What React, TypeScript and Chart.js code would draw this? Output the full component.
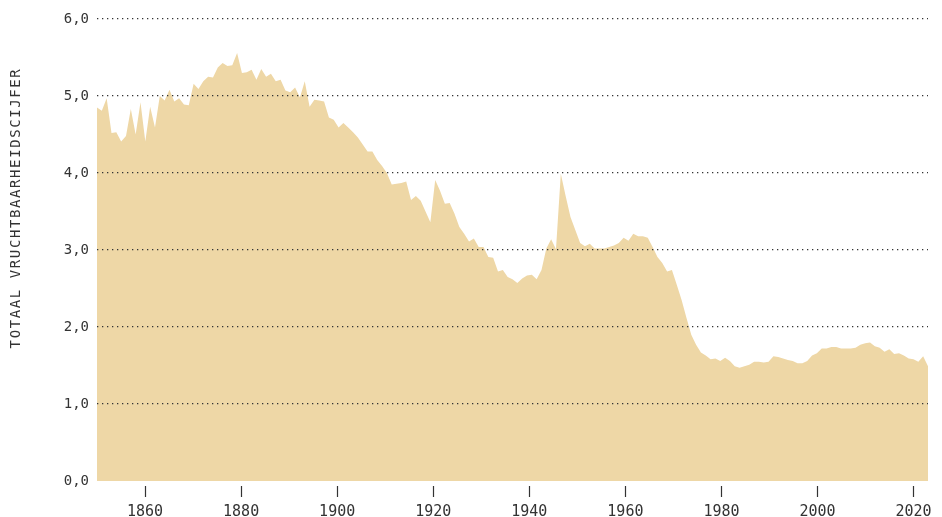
import React, { useEffect, useRef } from "react";
import { Chart, registerables } from "chart.js";

Chart.register(...registerables);

// Total fertility rate, Netherlands, 1850–2022
const firstYear = 1850;
const fertilityRate = [
  4.85, 4.81, 4.97, 4.52, 4.53, 4.41, 4.48, 4.83, 4.5, 4.92, // 1850s
  4.41, 4.86, 4.59, 5.0, 4.94, 5.08, 4.93, 4.97, 4.89, 4.88, // 1860s
  5.16, 5.09, 5.19, 5.25, 5.24, 5.37, 5.43, 5.39, 5.4, 5.56, // 1870s
  5.3, 5.31, 5.34, 5.21, 5.35, 5.25, 5.29, 5.19, 5.21, 5.07, // 1880s
  5.05, 5.11, 4.98, 5.19, 4.86, 4.95, 4.94, 4.93, 4.72, 4.69, // 1890s
  4.59, 4.65, 4.59, 4.53, 4.46, 4.37, 4.28, 4.28, 4.17, 4.09, // 1900s
  4.0, 3.85, 3.86, 3.87, 3.89, 3.65, 3.7, 3.64, 3.5, 3.36, // 1910s
  3.91, 3.77, 3.6, 3.61, 3.47, 3.3, 3.21, 3.11, 3.15, 3.04, // 1920s
  3.04, 2.91, 2.9, 2.72, 2.74, 2.65, 2.62, 2.57, 2.63, 2.67, // 1930s
  2.68, 2.62, 2.74, 3.02, 3.14, 3.01, 3.99, 3.7, 3.43, 3.26, // 1940s
  3.09, 3.05, 3.08, 3.02, 3.02, 3.02, 3.04, 3.06, 3.09, 3.16, // 1950s
  3.12, 3.21, 3.18, 3.18, 3.16, 3.04, 2.91, 2.83, 2.72, 2.74, // 1960s
  2.55, 2.35, 2.12, 1.9, 1.77, 1.67, 1.63, 1.58, 1.59, 1.56, // 1970s
  1.6, 1.56, 1.49, 1.47, 1.49, 1.51, 1.55, 1.55, 1.54, 1.55, // 1980s
  1.62, 1.61, 1.59, 1.57, 1.56, 1.53, 1.53, 1.56, 1.63, 1.66, // 1990s
  1.72, 1.72, 1.74, 1.74, 1.72, 1.72, 1.72, 1.73, 1.77, 1.79, // 2000s
  1.8, 1.75, 1.73, 1.68, 1.71, 1.65, 1.66, 1.63, 1.59, 1.58, // 2010s
  1.55, 1.62, 1.49, // 2020s
];
const years = fertilityRate.map((_, i) => firstYear + i);
const lastYear = years[years.length - 1];

const yearTicks = [1860, 1880, 1900, 1920, 1940, 1960, 1980, 2000, 2020];
const axisMinYear = 1850;
const axisMaxYear = 2023;
const valueTicks = [0, 1, 2, 3, 4, 5, 6];
const axisTitle = "TOTAAL VRUCHTBAARHEIDSCIJFER";

const FONT = "'DejaVu Sans Mono', 'Liberation Mono', monospace";
const INK = "#333333";
const FILL = "#eed7a6";

const verticalTitle = {
  id: "verticalTitle",
  afterDraw(chart: any) {
    const ctx = chart.ctx as CanvasRenderingContext2D;
    ctx.save();
    ctx.translate(16, 208);
    ctx.rotate(-Math.PI / 2);
    ctx.font = `14px ${FONT}`;
    (ctx as any).letterSpacing = "1.6px";
    ctx.fillStyle = INK;
    ctx.textAlign = "center";
    ctx.textBaseline = "middle";
    ctx.fillText(axisTitle, 0, 0);
    ctx.restore();
  },
};

export default function App() {
  const canvasRef = useRef<HTMLCanvasElement | null>(null);

  useEffect(() => {
    document.body.style.margin = "0";
    const canvas = canvasRef.current;
    if (!canvas) return;
    Chart.defaults.font.family = FONT;
    const chart = new Chart(canvas, {
      type: "line",
      data: {
        datasets: [
          {
            data: years.map((yr, i) => ({ x: yr, y: fertilityRate[i] })),
            xAxisID: "x",
            yAxisID: "y",
            fill: "origin",
            backgroundColor: FILL,
            borderColor: "rgba(0,0,0,0)",
            borderWidth: 1,
            pointRadius: 0,
            pointHoverRadius: 0,
            tension: 0,
          },
        ],
      },
      options: {
        animation: false,
        responsive: true,
        maintainAspectRatio: false,
        layout: { padding: { top: 19, right: 14, bottom: 0, left: 0 } },
        plugins: {
          legend: { display: false },
          tooltip: { enabled: false },
        },
        scales: {
          x: {
            type: "linear",
            min: firstYear,
            max: lastYear,
            display: false,
          },
          x2: {
            type: "linear",
            position: "bottom",
            min: axisMinYear,
            max: axisMaxYear,
            afterBuildTicks: (s: any) => {
              s.ticks = yearTicks.map((v) => ({ value: v }));
            },
            afterFit: (s: any) => {
              s.height = 36;
            },
            border: { display: false },
            grid: {
              drawOnChartArea: false,
              drawTicks: true,
              tickLength: 16,
              tickColor: INK,
              tickWidth: 1.2,
              tickBorderDash: [0, 5, 11, 100],
            },
            ticks: {
              padding: 6,
              color: INK,
              font: { family: FONT, size: 15 },
              maxRotation: 0,
              autoSkip: false,
              callback: (v: any) => String(v),
            },
          },
          y: {
            type: "linear",
            min: 0,
            max: 6,
            afterBuildTicks: (s: any) => {
              s.ticks = valueTicks.map((v) => ({ value: v }));
            },
            afterFit: (s: any) => {
              s.width = 97;
            },
            border: { display: false, dash: [1.3, 3.7] },
            grid: {
              z: 1,
              color: (c: any) =>
                c.tick && c.tick.value === 0 ? "rgba(0,0,0,0)" : INK,
              lineWidth: 1.3,
              drawTicks: false,
            },
            ticks: {
              padding: 8,
              color: INK,
              font: { family: FONT, size: 14 },
              callback: (v: any) => Number(v).toFixed(1).replace(".", ","),
            },
          },
        },
      },
      plugins: [verticalTitle],
    });
    return () => chart.destroy();
  }, []);

  return (
    <div style={{ position: "relative", width: 942, height: 517 }}>
      <canvas ref={canvasRef} />
    </div>
  );
}
